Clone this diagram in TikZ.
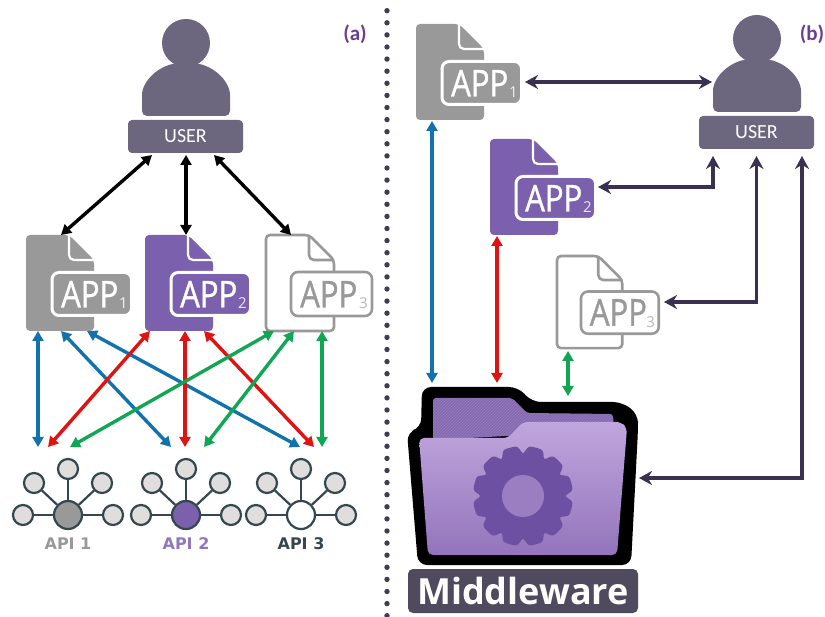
\documentclass[tikz,border=0pt]{standalone}
\usepackage{fontspec}
\setmainfont{Open Sans}
\newfontfamily\labelfont{Carlito}
\newfontfamily\apifont{DejaVu Sans}
\newfontfamily\appfont[FakeBold=1.2]{Open Sans}
\usetikzlibrary{arrows.meta,calc}
\definecolor{appgray}{HTML}{999999}
\definecolor{apppurple}{HTML}{7B60AE}
\definecolor{usercol}{HTML}{6C667F}
\definecolor{darkarrow}{HTML}{3A3050}
\definecolor{bluearrow}{HTML}{1272AE}
\definecolor{redarrow}{HTML}{E01212}
\definecolor{greenarrow}{HTML}{10A654}
\definecolor{apistroke}{HTML}{34474F}
\definecolor{apisat}{HTML}{E0DEDC}
\definecolor{tagcol}{HTML}{6A3F92}
\definecolor{dotcol}{HTML}{433A58}
\definecolor{foldtop}{HTML}{C0A6DD}
\definecolor{foldbot}{HTML}{9374BC}
\definecolor{foldback}{HTML}{8266B0}
\definecolor{gearcol}{HTML}{6E50A2}
\definecolor{gearhub}{HTML}{9B7DC2}
\definecolor{mwbox}{HTML}{4F4A5E}
\tikzset{
  x=1pt,y=-1pt,
  bluelink/.style={draw=bluearrow,line width=3.4pt,{Triangle[length=10pt,width=11pt]}-{Triangle[length=10pt,width=11pt]}},
  redlink/.style={bluelink,draw=redarrow},
  greenlink/.style={bluelink,draw=greenarrow},
  blacklink/.style={bluelink,draw=black},
  darklink/.style={draw=darkarrow,line width=3.4pt,{Stealth[length=13pt,width=14pt]}-{Stealth[length=13pt,width=14pt]}},
  userbox/.style={fill=usercol,rounded corners=4pt,inner sep=0pt,minimum width=115pt,minimum height=33pt,text=white,font=\labelfont\fontsize{20}{20}\selectfont},
  apinode/.style={circle,draw=apistroke,line width=2.2pt,inner sep=0pt,minimum size=20pt,fill=apisat},
  apihub/.style={apinode,minimum size=28pt},
  apilink/.style={draw=apistroke,line width=2.2pt},
  apilabel/.style={font=\apifont\bfseries\fontsize{16}{16}\selectfont,inner sep=0pt},
  tag/.style={text=tagcol,font=\labelfont\bfseries\fontsize{21}{21}\selectfont,inner sep=0pt},
  frame/.style={inner sep=0pt,minimum width=68pt,minimum height=97pt,anchor=north west},
}
% name, x, y, colour, subscript, scale
\newcommand{\filledapp}[6]{%
  \node[frame,minimum width=#6*68pt,minimum height=#6*97pt] (#1) at (#2,#3) {};
  \begin{scope}[shift={(#2,#3)},x=#6pt,y=-#6pt]
    \fill[#4,rounded corners=4pt] (0,0) -- (43,0) -- (68,25) -- (68,96) -- (0,96) -- cycle;
    \draw[white,line width=2.2pt,rounded corners=5pt] (43,0) -- (43,25) -- (69,25);
    \draw[white,line width=3pt,fill=#4,rounded corners=7pt] (26,37.5) rectangle (105.5,80.5);
    \node[anchor=base west,inner sep=0pt,text=white] at (35,72.5) {\scalebox{.84}[1]{\appfont\fontsize{37}{37}\selectfont APP}};
    \node[anchor=base west,inner sep=0pt,text=white!85!#4] at (93,74) {\fontsize{15}{15}\selectfont #5};
  \end{scope}}
\newcommand{\outlineapp}[6]{%
  \node[frame,minimum width=#6*68pt,minimum height=#6*97pt] (#1) at (#2,#3) {};
  \begin{scope}[shift={(#2,#3)},x=#6pt,y=-#6pt]
    \draw[#4,line width=2.6pt,rounded corners=4pt,fill=white] (0,0) -- (43,0) -- (68,25) -- (68,96) -- (0,96) -- cycle;
    \draw[#4,line width=2.6pt,rounded corners=5pt] (43,0) -- (43,25) -- (68,25);
    \draw[#4,line width=2.6pt,fill=white,rounded corners=7pt] (25,37) rectangle (106,81);
    \node[anchor=base west,inner sep=0pt,text=#4] at (34,72.5) {\scalebox{.84}[1]{\appfont\fontsize{37}{37}\selectfont APP}};
    \node[anchor=base west,inner sep=0pt,text=#4!70] at (93,74) {\fontsize{15}{15}\selectfont #5};
  \end{scope}}
% name, cx, bottom of the body
\newcommand{\usershape}[3]{%
  \fill[usercol] (#2,#3-73) circle (24);
  \fill[usercol,rounded corners=5pt] (#2-44,#3) -- (#2-44,#3-16)
    .. controls (#2-44,#3-35) and (#2-26,#3-53) .. (#2,#3-53)
    .. controls (#2+26,#3-53) and (#2+44,#3-35) .. (#2+44,#3-16) -- (#2+44,#3) -- cycle;}
% name, cx, hub colour, label colour, label
\newcommand{\apicon}[5]{%
  \node[apihub,fill=#3] (#1hub) at (#2,515) {};
  \node[apinode] (#1t) at (#2,469) {};
  \node[apinode] (#1ul) at (#2-34,483) {};
  \node[apinode] (#1ur) at (#2+34,483) {};
  \node[apinode] (#1l) at (#2-45,515) {};
  \node[apinode] (#1r) at (#2+45,515) {};
  \foreach \s in {t,ul,ur,l,r} {\draw[apilink] (#1hub) -- (#1\s);}
  \node[apilabel,text=#4] (#1lab) at (#2,544) {#5};}
\begin{document}
\begin{tikzpicture}
\useasboundingbox (0,0) rectangle (825,617);
\fill[white] (0,0) rectangle (825,617);

% divider
\coordinate (divtop) at (387,10.7);
\coordinate (divbot) at (387,617);
\draw[dotcol,line width=5.4pt,line cap=round,dash pattern=on 0pt off 12.1pt] (divtop) -- (divbot);

\node[tag] (taga) at (355,34) {(a)};
\node[tag] (tagb) at (812,34) {(b)};

%%%%%%%% (a)
\usershape{ua}{186}{116}
\node[userbox] (ubox) at (185.5,136.5) {USER};
\filledapp{a1}{26}{235}{appgray}{1}{1}
\filledapp{a2}{145}{235}{apppurple}{2}{1}
\outlineapp{a3}{266}{235}{appgray}{3}{1}
\apicon{apia}{68}{appgray}{appgray}{API 1}
\apicon{apib}{186}{apppurple}{apppurple!85}{API 2}
\apicon{apic}{301}{white}{apistroke}{API 3}

\coordinate (ul) at (152,155); \coordinate (um) at (186,155); \coordinate (ur) at (214,155);
\coordinate (t1) at (61,235); \coordinate (t2) at (186,235); \coordinate (t3) at (291,235);
\draw[blacklink] (ul) -- (t1);
\draw[blacklink] (um) -- (t2);
\draw[blacklink] (ur) -- (t3);

\foreach \n/\x in {pa/38,pb/61,pc/87,pd/150,pe/185,pf/204,pg/274,ph/294,pi/322}{\coordinate (\n) at (\x,331);}
\foreach \n/\x in {qa/38,qb/171,qc/300,qd/48,qe/185,qf/314,qg/70,qh/204,qi/322}{\coordinate (\n) at (\x,447);}
\draw[bluelink] (pa) -- (qa);
\draw[bluelink] (pb) -- (qb);
\draw[bluelink] (pc) -- (qc);
\draw[redlink] (pd) -- (qd);
\draw[redlink] (pe) -- (qe);
\draw[redlink] (pf) -- (qf);
\draw[greenlink] (pg) -- (qg);
\draw[greenlink] (ph) -- (qh);
\draw[greenlink] (pi) -- (qi);

%%%%%%%% (b)
\usershape{ub}{757}{112}
\node[userbox] (uboxb) at (756.5,132.5) {USER};
\filledapp{b1}{416}{24}{appgray}{1}{1}
\filledapp{b2}{490}{139}{apppurple}{2}{1}
\outlineapp{b3}{557}{256}{appgray}{3}{.96}

% folder
\fill[black,rounded corners=9pt] (407,432) -- (421,428) -- (422,387) -- (518,387) -- (532,402) -- (622,402) -- (638,414) -- (638,430) -- (631,565) -- (418,565) -- cycle;
\begin{scope}
  \path[clip,rounded corners=3pt] (433,398) -- (512,398) -- (527,413) -- (613,414) -- (614,430) -- (433,440) -- cycle;
  \fill[foldback] (430,395) rectangle (616,442);
  \foreach \i in {-40,-37,...,210}{\draw[white,opacity=.13,line width=.8pt] (420+\i,442) -- (470+\i,392);}
\end{scope}
\shade[top color=foldtop,bottom color=foldbot,rounded corners=5pt]
  (419,438) -- (508,438) -- (523,422) -- (621,422) -- (627,428) -- (617,555) -- (428,555) -- cycle;
\fill[gearcol] plot[domain=0:360,samples=361] ({523+(50-7*((1+cos(12*\x))/2)*((1+cos(12*\x))/2)*((1+cos(12*\x))/2)*((1+cos(12*\x))/2))*cos(\x)},{496+(50-7*((1+cos(12*\x))/2)*((1+cos(12*\x))/2)*((1+cos(12*\x))/2)*((1+cos(12*\x))/2))*sin(\x)}) -- cycle;
\fill[gearhub] (523,496) circle (21);
\node[fill=mwbox,rounded corners=5pt,inner sep=0pt,minimum width=230pt,minimum height=44pt,text=white,font=\bfseries\fontsize{36}{36}\selectfont] (mw) at (523,591) {Middleware};

% dark links
\coordinate (c1) at (525,82); \coordinate (u1) at (712,82);
\draw[darklink] (c1) -- (u1);
\coordinate (c2) at (598,187); \coordinate (u2) at (713,156);
\draw[darklink] (c2) -| (u2);
\coordinate (c3) at (664,302); \coordinate (u3) at (756.5,156);
\draw[darklink] (c3) -| (u3);
\coordinate (c4) at (639,478); \coordinate (u4) at (802,156);
\draw[darklink] (c4) -| (u4);

% vertical links to the folder
\coordinate (bt) at (432,121); \coordinate (bb) at (432,383);
\coordinate (rt) at (497,236); \coordinate (rb) at (497,383);
\coordinate (gt) at (568,351); \coordinate (gb) at (568,396);
\draw[bluelink] (bt) -- (bb);
\draw[redlink] (rt) -- (rb);
\draw[greenlink] (gt) -- (gb);
\end{tikzpicture}
\end{document}
